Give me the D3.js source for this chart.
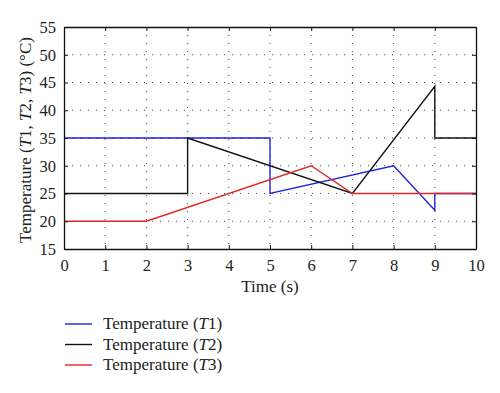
<!DOCTYPE html>
<html>
<head>
<meta charset="utf-8">
<script src="https://cdn.jsdelivr.net/npm/d3@7"></script>
<style>
  body { margin: 0; background: #fff; }
  text { font-family: "Liberation Serif", "DejaVu Serif", serif; fill: #222; }
</style>
</head>
<body>
<script>
// data
var xTicks = [0, 1, 2, 3, 4, 5, 6, 7, 8, 9, 10];
var yTicks = [15, 20, 25, 30, 35, 40, 45, 50, 55];
var seriesNames = ["T1", "T2", "T3"];
var seriesColors = ["#2222dd", "#111111", "#e02828"];
var t1 = [[0, 35], [5, 35], [5, 25], [8, 30], [9, 22], [9, 25], [10, 25]];
var t2 = [[0, 25], [3, 25], [3, 35], [7, 25], [9, 44.3], [9, 35], [10, 35]];
var t3 = [[0, 20], [2, 20], [6, 30], [7, 25], [10, 25]];
var series = [t1, t2, t3];

var width = 500, height = 393;
var margin = { top: 27, right: 24, bottom: 144, left: 64 };
var w = width - margin.left - margin.right;
var h = height - margin.top - margin.bottom;

var svg = d3.select("body").append("svg")
  .attr("width", width)
  .attr("height", height);

var g = svg.append("g")
  .attr("transform", "translate(" + margin.left + "," + margin.top + ")");

var x = d3.scaleLinear().domain([0, 10]).range([0, w]);
var y = d3.scaleLinear().domain([15, 55]).range([h, 0]);

// dotted grid
g.selectAll(".vgrid").data(xTicks.slice(1, -1)).enter()
  .append("line")
  .attr("x1", function (d) { return x(d); })
  .attr("x2", function (d) { return x(d); })
  .attr("y1", 0).attr("y2", h)
  .attr("stroke", "#444").attr("stroke-width", 1)
  .attr("stroke-dasharray", "1,7");

g.selectAll(".hgrid").data(yTicks.slice(1, -1)).enter()
  .append("line")
  .attr("y1", function (d) { return y(d); })
  .attr("y2", function (d) { return y(d); })
  .attr("x1", 0).attr("x2", w)
  .attr("stroke", "#444").attr("stroke-width", 1)
  .attr("stroke-dasharray", "1,7");

// series
var line = d3.line()
  .x(function (d) { return x(d[0]); })
  .y(function (d) { return y(d[1]); });

series.forEach(function (s, i) {
  g.append("path")
    .datum(s)
    .attr("d", line)
    .attr("fill", "none")
    .attr("stroke", seriesColors[i])
    .attr("stroke-width", 1.4);
});

// axes (ticks inside, boxed)
var xAxis = d3.axisBottom(x).tickValues(xTicks).tickSizeInner(-4).tickSizeOuter(0).tickPadding(10);
var yAxis = d3.axisLeft(y).tickValues(yTicks).tickSizeInner(-4).tickSizeOuter(0).tickPadding(8);

var gx = g.append("g").attr("transform", "translate(0," + h + ")").call(xAxis);
var gy = g.append("g").call(yAxis);
g.append("g").call(d3.axisTop(x).tickValues(xTicks).tickSizeInner(-4).tickSizeOuter(0).tickFormat(""));
g.append("g").attr("transform", "translate(" + w + ",0)")
  .call(d3.axisRight(y).tickValues(yTicks).tickSizeInner(-4).tickSizeOuter(0).tickFormat(""));

g.selectAll(".domain").attr("stroke", "#111").attr("stroke-width", 1.3);
g.selectAll(".tick line").attr("stroke", "#111");
g.selectAll(".tick text")
  .style("font-family", "'Liberation Serif', serif")
  .style("font-size", "16.5px")
  .attr("fill", "#222");

// axis titles
g.append("text")
  .attr("x", w / 2)
  .attr("y", h + 43)
  .attr("text-anchor", "middle")
  .style("font-size", "17px")
  .text("Time (s)");

var yt = svg.append("text")
  .attr("transform", "translate(31," + (margin.top + h / 2 + 2) + ") rotate(-90)")
  .attr("text-anchor", "middle")
  .style("font-size", "17px");
yt.append("tspan").text("Temperature (");
yt.append("tspan").style("font-style", "italic").text("T");
yt.append("tspan").text("1, ");
yt.append("tspan").style("font-style", "italic").text("T");
yt.append("tspan").text("2, ");
yt.append("tspan").style("font-style", "italic").text("T");
yt.append("tspan").text("3) (°C)");

// legend
var legend = svg.append("g").attr("transform", "translate(65,324)");
seriesNames.forEach(function (name, i) {
  var row = legend.append("g").attr("transform", "translate(0," + (i * 20.5) + ")");
  row.append("line")
    .attr("x1", 0).attr("x2", 27)
    .attr("y1", 0).attr("y2", 0)
    .attr("stroke", seriesColors[i])
    .attr("stroke-width", 1.4);
  var t = row.append("text")
    .attr("x", 38)
    .attr("y", 5)
    .style("font-size", "17px");
  t.append("tspan").text("Temperature (");
  t.append("tspan").style("font-style", "italic").text("T");
  t.append("tspan").text(name.slice(1) + ")");
});
</script>
</body>
</html>
